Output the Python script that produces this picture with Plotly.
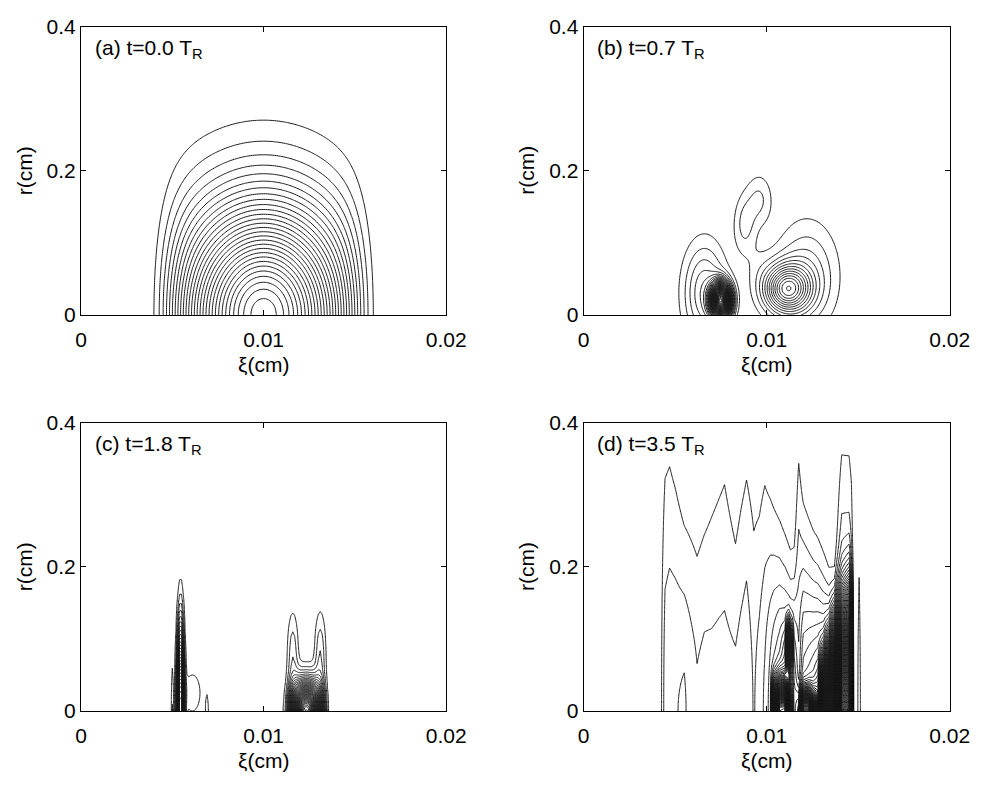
import numpy as np
import plotly.graph_objects as go

# ---------------------------------------------------------------------------
# Panel labels and axis ticks
# ---------------------------------------------------------------------------
PANEL_LABELS = ["(a) t=0.0 T<sub>R</sub>", "(b) t=0.7 T<sub>R</sub>",
                "(c) t=1.8 T<sub>R</sub>", "(d) t=3.5 T<sub>R</sub>"]
XI_TICKS = [0.0, 0.01, 0.02]
XI_TICK_TEXT = ["0", "0.01", "0.02"]
R_TICKS = [0.0, 0.2, 0.4]
R_TICK_TEXT = ["0", "0.2", "0.4"]

# ---------------------------------------------------------------------------
# Density components: centre xi, centre r, xi width, xi edge width, r width, amplitude
# ---------------------------------------------------------------------------
A_XC = [0.0100]
A_RC = [0.0]
A_SX = [0.0045]
A_SQ = [0.00566]
A_SR = [0.1467]
A_AMP = [29.7]

B_XC = [0.0075, 0.0066, 0.0088, 0.0096, 0.0111, 0.0122, 0.0095]
B_RC = [0.020, 0.030, 0.125, 0.160, 0.036, 0.055, 0.070]
B_SX = [0.0005, 0.0011, 0.0006, 0.0007, 0.0012, 0.0016, 0.0007]
B_SQ = [1.0, 1.0, 1.0, 1.0, 1.0, 1.0, 1.0]
B_SR = [0.022, 0.065, 0.040, 0.035, 0.032, 0.070, 0.030]
B_AMP = [40.0, 5.0, 2.3, 2.1, 12.0, 3.5, 0.6]

C_XC = [0.00545, 0.0061, 0.0069, 0.0050, 0.01235, 0.0116, 0.0131, 0.0120]
C_RC = [0.0, 0.025, 0.0, 0.0, 0.0, 0.075, 0.075, 0.0]
C_SX = [0.00017, 0.0005, 0.00012, 0.00006, 0.0008, 0.0003, 0.0003, 0.0012]
C_SQ = [1.0, 1.0, 1.0, 1.0, 0.0011, 1.0, 1.0, 1.0]
C_SR = [0.100, 0.030, 0.030, 0.070, 0.035, 0.060, 0.060, 0.040]
C_AMP = [30.0, 2.0, 1.5, 2.0, 40.0, 2.8, 3.0, 1.5]

# Panel (d): on-axis profile sampled at xi nodes (broad part + dense core)
D_XI = [0.0, 0.0040, 0.0042, 0.00445, 0.0047, 0.0050, 0.0055, 0.0059, 0.0062, 0.0066,
        0.0070, 0.0074, 0.0077, 0.0080, 0.0083, 0.0086, 0.0089, 0.0093, 0.0096, 0.0099,
        0.0102, 0.0104, 0.0107, 0.0110, 0.0112, 0.0113, 0.0115, 0.01175, 0.0120, 0.0123,
        0.01255, 0.0128, 0.0131, 0.0134, 0.0137, 0.0141, 0.0145, 0.01463, 0.01475, 0.0149,
        0.01505, 0.0152, 0.0155, 0.0200]
D_AMP1 = [0, 0, 0.5, 2.6, 2.87, 2.93, 3.15, 2.55, 2.15, 2.38,
          2.33, 2.36, 2.37, 2.30, 2.26, 2.52, 2.76, 1.9, 2.47, 3.2,
          4.5, 5.5, 7.0, 8.0, 8.0, 8.0, 7.5, 4.5, 8.0, 9.0,
          10.0, 11.0, 12.0, 12.0, 12.0, 5.0, 4.0, 3.0, 0.3, 0.3,
          1.6, 0.3, 0, 0]
D_WID1 = [0.3, 0.3, 0.3, 0.33, 0.33, 0.299, 0.24, 0.243, 0.245, 0.263,
          0.293, 0.318, 0.338, 0.296, 0.257, 0.291, 0.318, 0.312, 0.284, 0.29,
          0.24, 0.215, 0.19, 0.17, 0.16, 0.155, 0.16, 0.28, 0.20, 0.18,
          0.165, 0.155, 0.14, 0.125, 0.11, 0.28, 0.30, 0.30, 0.2, 0.2,
          0.27, 0.2, 0.2, 0.2]
D_AMP2 = [0] * 20 + [0, 30, 60, 60, 20, 10, 0, 5, 45, 50,
                     25, 5, 40, 60, 80, 140, 150, 120, 0, 0,
                     0, 0, 0, 0]
D_WID2 = [0.05] * 20 + [0.05, 0.035, 0.035, 0.035, 0.04, 0.04, 0.04, 0.03, 0.025, 0.025,
                        0.025, 0.04, 0.06, 0.075, 0.09, 0.10, 0.11, 0.10, 0.05, 0.05,
                        0.05, 0.05, 0.05, 0.05]
# off-axis streak in panel (d)
D_XC = [0.0112]
D_RC = [0.09]
D_SX = [0.00012]
D_SQ = [1.0]
D_SR = [0.03]
D_AMP = [25.0]

# contour levels (start, end) per panel, step 1
LEVELS = [(1, 29), (1, 60), (1, 60), (1, 200)]


def blob_sum(xi, r, xc, rc, sx, sq, sr, amp):
    X, R = np.meshgrid(np.asarray(xi), np.asarray(r))
    Z = np.zeros_like(X)
    for a, b, c, d, e, f in zip(xc, rc, sx, sq, sr, amp):
        dx = X - a
        Z += f * np.exp(-(dx / c) ** 2 - (dx / d) ** 8 - ((R - b) / e) ** 2)
    return Z


xi_a = np.linspace(0, 0.02, 201)
r_a = np.linspace(0, 0.4, 161)
z_a = blob_sum(xi_a, r_a, A_XC, A_RC, A_SX, A_SQ, A_SR, A_AMP)

xi_b = np.linspace(0, 0.02, 401)
r_b = np.linspace(0, 0.4, 201)
z_b = blob_sum(xi_b, r_b, B_XC, B_RC, B_SX, B_SQ, B_SR, B_AMP)

xi_c = np.linspace(0, 0.02, 201)
r_c = np.linspace(0, 0.4, 81)
z_c = blob_sum(xi_c, r_c, C_XC, C_RC, C_SX, C_SQ, C_SR, C_AMP)

xi_d = np.array(D_XI)
r_d = np.linspace(0, 0.4, 81)
Xd, Rd = np.meshgrid(xi_d, r_d)
z_d = (np.array(D_AMP1) * np.exp(-(Rd / np.array(D_WID1)) ** 2)
       + np.array(D_AMP2) * np.exp(-(Rd / np.array(D_WID2)) ** 2)
       + blob_sum(xi_d, r_d, D_XC, D_RC, D_SX, D_SQ, D_SR, D_AMP))

W, H = 998, 788
FONT = "Liberation Sans, Arial, Helvetica, sans-serif"
# plot areas in pixels: (left, right, top, bottom)
BOXES = [(77, 452, 15, 312), (593, 969, 15, 312), (77, 452, 423, 720), (593, 969, 423, 720)]

fig = go.Figure()
fields = [(xi_a, r_a, z_a, 1), (xi_b, r_b, z_b, 1), (xi_c, r_c, z_c, 0), (xi_d, r_d, z_d, 0)]
for i, ((x, y, z, sm), (lo, hi)) in enumerate(zip(fields, LEVELS)):
    sfx = "" if i == 0 else str(i + 1)
    fig.add_trace(go.Contour(
        x=x, y=y, z=z, xaxis="x" + sfx, yaxis="y" + sfx,
        contours=dict(coloring="lines", start=lo, end=hi, size=1),
        colorscale=[[0, "#1a1a1a"], [1, "#1a1a1a"]], showscale=False,
        line=dict(width=1, smoothing=sm), hoverinfo="skip"))

layout = dict(width=W, height=H, margin=dict(l=0, r=0, t=0, b=0),
              paper_bgcolor="white", plot_bgcolor="white", showlegend=False,
              font=dict(family=FONT, size=21, color="black"))
annotations = []
for i, (l, r, t, b) in enumerate(BOXES):
    sfx = "" if i == 0 else str(i + 1)
    axis_common = dict(showgrid=False, zeroline=False, showline=True, mirror="ticks",
                       linecolor="black", linewidth=1, ticks="inside", ticklen=5,
                       tickcolor="black", tickfont=dict(family=FONT, size=21, color="black"))
    layout["xaxis" + sfx] = dict(domain=[l / W, r / W], range=[0, 0.02], anchor="y" + sfx,
                                 tickvals=XI_TICKS, ticktext=XI_TICK_TEXT,
                                 ticklabelstandoff=6, **axis_common)
    layout["yaxis" + sfx] = dict(domain=[1 - b / H, 1 - t / H], range=[0, 0.4], anchor="x" + sfx,
                                 tickvals=R_TICKS, ticktext=R_TICK_TEXT, **axis_common)
    annotations.append(dict(text=PANEL_LABELS[i], xref="paper", yref="paper",
                            x=(l + 12) / W, y=1 - (t + 8) / H, xanchor="left", yanchor="top",
                            showarrow=False, font=dict(family=FONT, size=21, color="black")))
    annotations.append(dict(text="ξ(cm)", xref="paper", yref="paper",
                            x=(l + r) / 2 / W, y=1 - (b + 37) / H, xanchor="center", yanchor="top",
                            showarrow=False, font=dict(family=FONT, size=21, color="black")))
    annotations.append(dict(text="r(cm)", xref="paper", yref="paper", textangle=-90,
                            x=(l - 58) / W, y=1 - (t + b) / 2 / H, xanchor="center", yanchor="middle",
                            showarrow=False, font=dict(family=FONT, size=21, color="black")))
layout["annotations"] = annotations
fig.update_layout(**layout)
fig.write_html("out.html")
